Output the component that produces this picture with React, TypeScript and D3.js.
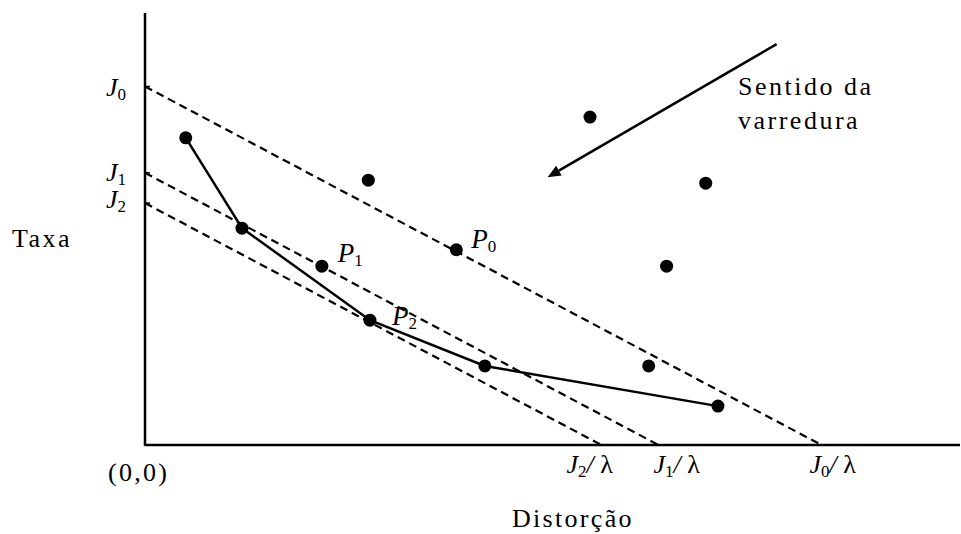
import React from "react";
import * as d3 from "d3";

// Operating points (distortion, rate)
const pointsD = [5.0, 11.9, 27.4, 21.7, 38.2, 27.6, 41.7, 54.6, 68.8, 64.0, 61.8, 70.3];
const pointsR = [71.1, 50.2, 61.3, 41.4, 45.2, 28.9, 18.3, 75.9, 60.6, 41.4, 18.3, 9.0];

// Lower convex hull (operational curve)
const hullD = [5.0, 11.9, 27.6, 41.7, 70.3];
const hullR = [71.1, 50.2, 28.9, 18.3, 9.0];

// Cost lines J = R + λD
const lambda = 1;
const costJ = [83.0, 63.0, 56.0];
const costNames = ["0", "1", "2"];

// Labelled points
const labelNames = ["1", "0", "2"];
const labelD = [21.7, 38.2, 27.6];
const labelR = [41.4, 45.2, 28.9];

// Scan direction arrow
const arrowFrom = [77.5, 92.8];
const arrowTo = [49.4, 62.0];

const W = 961;
const H = 534;

export default function App() {
  const x = d3.scaleLinear().domain([0, 100]).range([145, 960]);
  const y = d3.scaleLinear().domain([0, 100]).range([445, 13]);

  const hullPath = d3
    .line<number>()
    .x((_, i) => x(hullD[i]))
    .y((_, i) => y(hullR[i]))(hullD);

  const font = "'Liberation Serif', 'Times New Roman', serif";

  const ax0 = x(arrowFrom[0]);
  const ay0 = y(arrowFrom[1]);
  const ax1 = x(arrowTo[0]);
  const ay1 = y(arrowTo[1]);
  const ang = Math.atan2(ay1 - ay0, ax1 - ax0);
  const headLen = 13;
  const headW = 5.5;
  const bx = ax1 - headLen * Math.cos(ang);
  const by = ay1 - headLen * Math.sin(ang);
  const head = [
    [ax1, ay1],
    [bx + headW * Math.sin(ang), by - headW * Math.cos(ang)],
    [bx - headW * Math.sin(ang), by + headW * Math.cos(ang)],
  ];

  const labelOffsets = [
    [16, -4],
    [15, -2],
    [22, 5],
  ];

  return (
    <svg
      width={W}
      height={H}
      style={{ position: "absolute", left: 0, top: 0, background: "#fff" }}
      fontFamily={font}
    >
      <rect width={W} height={H} fill="#fff" />

      {/* cost lines */}
      {costJ.map((J, i) => (
        <line
          key={"c" + i}
          x1={x(0)}
          y1={y(J)}
          x2={x(J / lambda)}
          y2={y(0)}
          stroke="#000"
          strokeWidth={2.2}
          strokeDasharray="8,5"
        />
      ))}

      {/* axes */}
      <line x1={x(0)} y1={y(100)} x2={x(0)} y2={y(0) + 1} stroke="#000" strokeWidth={2.5} />
      <line x1={x(0)} y1={y(0)} x2={x(100)} y2={y(0)} stroke="#000" strokeWidth={2.5} />
      {costJ.map((J, i) => (
        <line key={"t" + i} x1={x(0)} y1={y(J)} x2={x(0) + 5} y2={y(J)} stroke="#000" strokeWidth={1.5} />
      ))}

      {/* hull */}
      <path d={hullPath || ""} fill="none" stroke="#000" strokeWidth={2.5} />

      {/* points */}
      {pointsD.map((d, i) => (
        <circle key={"p" + i} cx={x(d)} cy={y(pointsR[i])} r={6.5} fill="#000" />
      ))}

      {/* arrow */}
      <line x1={ax0} y1={ay0} x2={bx} y2={by} stroke="#000" strokeWidth={2.5} />
      <polygon points={head.map((p) => p.join(",")).join(" ")} fill="#000" />

      {/* J labels on rate axis */}
      {costJ.map((J, i) => (
        <text key={"jl" + i} x={106} y={y(J) + [10, 8, 5][i]} fontSize={26}>
          <tspan fontStyle="italic">J</tspan>
          <tspan fontSize={17} dy={4}>
            {costNames[i]}
          </tspan>
        </text>
      ))}

      {/* J/λ labels on distortion axis */}
      {costJ.map((J, i) => (
        <text key={"jx" + i} x={x(J / lambda) - [12, 5, 35][i]} y={473} fontSize={26}>
          <tspan fontStyle="italic">J</tspan>
          <tspan fontSize={17} dy={4}>
            {costNames[i]}
          </tspan>
          <tspan dy={-4} fontStyle="italic">/ </tspan>
          <tspan>λ</tspan>
        </text>
      ))}

      {/* P labels */}
      {labelNames.map((n, i) => (
        <text
          key={"pl" + i}
          x={x(labelD[i]) + labelOffsets[i][0]}
          y={y(labelR[i]) + labelOffsets[i][1]}
          fontSize={27}
        >
          <tspan fontStyle="italic">P</tspan>
          <tspan fontSize={17} dy={4}>
            {n}
          </tspan>
        </text>
      ))}

      <text x={108} y={481} fontSize={26} letterSpacing={2.3}>
        (0,0)
      </text>
      <text x={12} y={247} fontSize={26} letterSpacing={2.5}>
        Taxa
      </text>
      <text x={512} y={527} fontSize={26} letterSpacing={2.3}>
        Distorção
      </text>
      <text x={738} y={95} fontSize={26} letterSpacing={2.5}>
        Sentido da
      </text>
      <text x={738} y={129} fontSize={26} letterSpacing={2.5}>
        varredura
      </text>
    </svg>
  );
}
